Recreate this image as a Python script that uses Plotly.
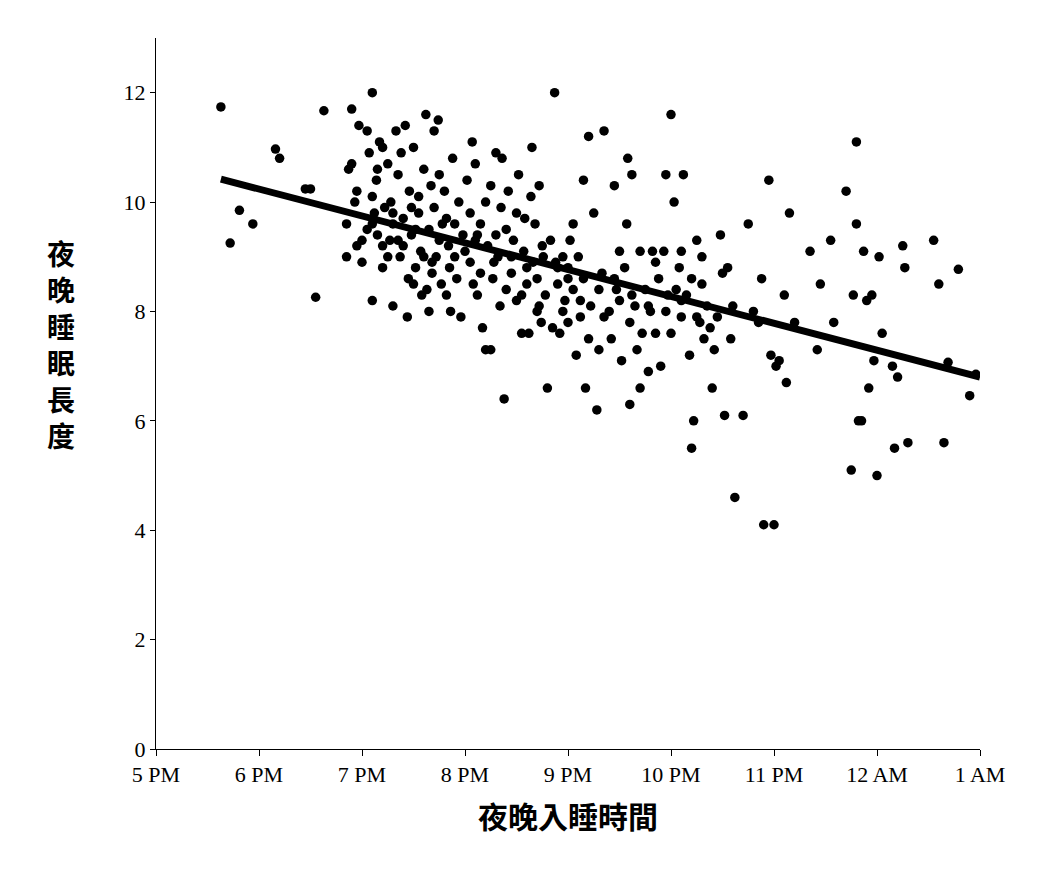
import plotly.graph_objects as go

# bedtime in hours (17 = 5 PM, 25 = 1 AM) and night sleep length in hours
bed_hour = [
    17.63, 17.72, 17.81, 17.94, 18.16, 18.2, 18.45, 18.5, 18.55, 18.63,
    18.85, 18.85, 18.87, 18.9, 18.93, 18.95, 18.97, 19.0, 18.9, 18.95, 19.0,
    19.05, 19.07, 19.1, 19.1, 19.12, 19.14, 19.15, 19.17, 19.2, 19.2, 19.22, 19.25, 19.27, 19.28, 19.3, 19.3, 19.05, 19.1, 19.15, 19.2,
    19.33, 19.35, 19.37, 19.4, 19.42, 19.44, 19.46, 19.48, 19.5, 19.5, 19.52, 19.55, 19.57, 19.58, 19.6, 19.35, 19.45, 19.38, 19.55,
    19.62, 19.63, 19.65, 19.67, 19.68, 19.7, 19.72, 19.74, 19.75, 19.77, 19.78, 19.8, 19.82, 19.84, 19.86, 19.88, 19.9, 19.92, 19.94, 19.96, 19.98, 19.7, 19.85, 19.65,
    20.02, 20.05, 20.07, 20.1, 20.12, 20.15, 20.17, 20.2, 20.2, 20.22, 20.25, 20.27, 20.3, 20.32, 20.34, 20.36, 20.38, 20.4, 20.4, 20.05, 20.15, 20.25, 20.1, 20.35,
    20.42, 20.45, 20.47, 20.5, 20.52, 20.55, 20.57, 20.6, 20.62, 20.64, 20.66, 20.68, 20.7, 20.72, 20.74, 20.76, 20.78, 20.8, 20.65, 20.5, 20.7, 20.58,
    20.83, 20.85, 20.87, 20.9, 20.92, 20.95, 20.97, 21.0, 21.02, 21.05, 21.08, 21.1, 21.12, 21.15, 21.17, 21.2, 21.2, 20.9, 21.05, 21.15, 21.0,
    21.22, 21.25, 21.28, 21.3, 21.33, 21.35, 21.4, 21.42, 21.45, 21.47, 21.5, 21.52, 21.55, 21.57, 21.6, 21.6, 21.35, 21.5, 21.58,
    21.62, 21.65, 21.67, 21.7, 21.72, 21.75, 21.78, 21.8, 21.82, 21.85, 21.88, 21.9, 21.93, 21.95, 21.97, 22.0, 22.0, 21.7, 21.85,
    22.03, 22.05, 22.08, 22.1, 22.12, 22.15, 22.18, 22.2, 22.22, 22.25, 22.28, 22.3, 22.32, 22.35, 22.38, 22.4, 22.42, 22.45, 22.48, 22.1, 22.2, 22.3,
    22.5, 22.52, 22.55, 22.6, 22.62, 22.7, 22.75, 22.8, 22.85, 22.9, 22.95, 22.97, 23.0, 23.02, 23.05, 23.1, 23.12, 22.58, 22.88,
    23.15, 23.2, 23.35, 23.42, 23.45, 23.55, 23.58, 23.7, 23.75, 23.77, 23.8, 23.8, 23.82, 23.85, 23.87, 23.9, 23.92, 23.95, 23.97, 24.0,
    24.02, 24.05, 24.15, 24.17, 24.2, 24.25, 24.27, 24.3, 24.55, 24.6, 24.65, 24.69, 24.79, 24.9, 24.96,
    # denser core of the cloud
    19.1, 19.25, 19.4, 19.52, 19.6, 19.75, 19.9, 20.0, 20.12, 20.28, 20.45, 20.6, 20.75, 20.88, 21.0, 21.12,
    21.3, 21.45, 21.62, 21.78, 21.95, 22.1, 22.25, 19.3, 19.48, 19.68, 19.82, 20.08, 20.3, 20.55, 20.72, 20.95,
]
sleep_len = [
    11.74, 9.25, 9.85, 9.6, 10.97, 10.8, 10.24, 10.24, 8.26, 11.67,
    9.0, 9.6, 10.6, 10.7, 10.0, 9.2, 11.4, 9.3, 11.7, 10.2, 8.9,
    11.3, 10.9, 12.0, 8.2, 9.8, 10.4, 9.4, 11.1, 11.0, 8.8, 9.9, 10.7, 9.3, 10.0, 9.6, 8.1, 9.5, 10.1, 10.6, 9.2,
    11.3, 10.5, 9.0, 9.7, 11.4, 7.9, 10.2, 9.4, 8.5, 11.0, 8.8, 10.1, 9.1, 8.3, 10.6, 9.3, 8.6, 10.9, 9.8,
    11.6, 8.4, 9.5, 10.3, 8.7, 11.3, 9.0, 11.5, 10.5, 8.5, 9.6, 10.2, 8.3, 9.2, 8.0, 10.8, 9.0, 8.6, 10.0, 7.9, 9.4, 9.9, 8.8, 8.0,
    10.4, 8.9, 11.1, 10.7, 8.3, 9.6, 7.7, 10.0, 7.3, 9.2, 10.3, 8.6, 10.9, 9.0, 8.1, 10.8, 6.4, 9.5, 8.4, 9.8, 8.7, 7.3, 9.3, 9.9,
    10.2, 8.7, 9.3, 8.2, 10.5, 7.6, 9.1, 8.5, 7.6, 10.1, 8.9, 9.6, 8.0, 10.3, 7.8, 9.0, 8.3, 6.6, 11.0, 9.8, 8.6, 9.7,
    9.3, 7.7, 12.0, 8.8, 7.6, 9.0, 8.2, 7.8, 9.3, 8.4, 7.2, 9.0, 7.9, 8.6, 6.6, 11.2, 7.5, 8.5, 9.6, 10.4, 8.8,
    8.1, 9.8, 6.2, 7.3, 8.7, 11.3, 8.0, 7.5, 10.3, 8.4, 9.1, 7.1, 8.8, 9.6, 7.8, 6.3, 7.9, 8.2, 10.8,
    10.5, 8.1, 7.3, 9.1, 7.6, 8.4, 6.9, 8.0, 9.1, 7.6, 8.6, 7.0, 9.1, 10.5, 8.3, 11.6, 7.6, 6.6, 8.9,
    10.0, 8.4, 8.8, 7.9, 10.5, 8.3, 7.2, 5.5, 6.0, 9.3, 7.8, 8.5, 7.5, 8.1, 7.7, 6.6, 7.3, 7.9, 9.4, 9.1, 8.6, 9.0,
    8.7, 6.1, 8.8, 8.1, 4.6, 6.1, 9.6, 8.0, 7.8, 4.1, 10.4, 7.2, 4.1, 7.0, 7.1, 8.3, 6.7, 7.5, 8.6,
    9.8, 7.8, 9.1, 7.3, 8.5, 9.3, 7.8, 10.2, 5.1, 8.3, 11.1, 9.6, 6.0, 6.0, 9.1, 8.2, 6.6, 8.3, 7.1, 5.0,
    9.0, 7.6, 7.0, 5.5, 6.8, 9.2, 8.8, 5.6, 9.3, 8.5, 5.6, 7.07, 8.77, 6.46, 6.85,
    9.6, 9.0, 9.2, 9.5, 9.0, 9.3, 9.6, 9.1, 9.4, 8.9, 9.0, 8.8, 9.2, 8.9, 8.6, 8.2,
    8.4, 8.6, 8.3, 8.1, 8.0, 8.2, 7.9, 9.8, 9.9, 8.9, 9.7, 8.5, 9.4, 8.3, 8.1, 8.0,
]

# regression line
fit_x = [17.63, 25.0]
fit_y = [10.42, 6.8]

tick_vals = [17, 18, 19, 20, 21, 22, 23, 24, 25]
tick_text = ["5 PM", "6 PM", "7 PM", "8 PM", "9 PM", "10 PM", "11 PM", "12 AM", "1 AM"]

fig = go.Figure()
fig.add_trace(go.Scatter(x=bed_hour, y=sleep_len, mode="markers",
                         marker=dict(color="black", size=9.5)))
fig.add_trace(go.Scatter(x=fit_x, y=fit_y, mode="lines",
                         line=dict(color="black", width=7)))

serif = "Liberation Serif, Times New Roman, serif"
cjk = "Noto Sans CJK TC"
fig.update_layout(
    width=1064, height=870, showlegend=False,
    plot_bgcolor="white", paper_bgcolor="white",
    margin=dict(l=148, r=92, t=30, b=129),
    font=dict(family=serif, size=22, color="black"),
    xaxis=dict(range=[17, 25], tickvals=tick_vals, ticktext=tick_text,
               showgrid=False, zeroline=False, showline=True, linecolor="black",
               ticks="outside", ticklen=6, tickcolor="black",
               title=dict(text="<b>夜晚入睡時間</b>", font=dict(family=cjk, size=30), standoff=20)),
    yaxis=dict(range=[0, 13], tickvals=[0, 2, 4, 6, 8, 10, 12],
               showgrid=False, zeroline=False, showline=True, linecolor="black",
               ticks="outside", ticklen=5, tickcolor="black"),
)
fig.add_annotation(text="<b>夜<br>晚<br>睡<br>眠<br>長<br>度</b>", xref="paper", yref="paper",
                   x=-0.135, y=0.57, showarrow=False, align="center",
                   font=dict(family=cjk, size=28), yanchor="middle")

fig.write_html("out.html")
